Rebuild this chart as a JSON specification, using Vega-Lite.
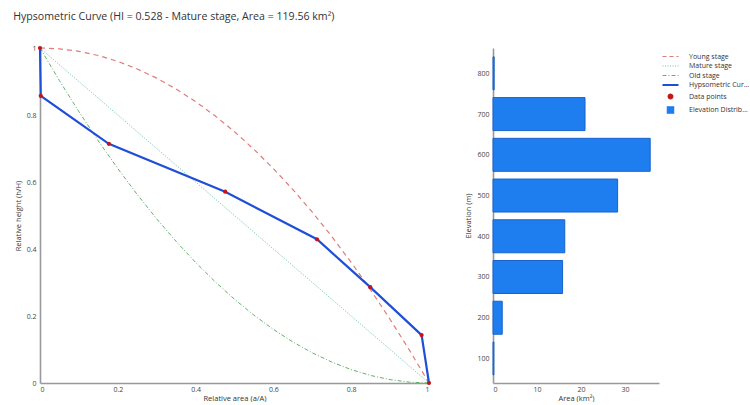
{
  "$schema": "https://vega.github.io/schema/vega-lite/v6.json",
  "background": "white",
  "padding": {"left": 13, "top": 12, "right": 0, "bottom": 0},
  "title": {"text": "Hypsometric Curve (HI = 0.528 - Mature stage, Area = 119.56 km²)", "anchor": "start", "fontSize": 10.6, "fontWeight": "normal", "color": "#333", "font": "Open Sans", "offset": 21, "dx": -1},
  "config": {
    "font": "Open Sans",
    "view": {"stroke": null},
    "axis": {"domainColor": "#999", "domainWidth": 1.6, "ticks": false, "grid": false, "labelColor": "#444", "labelFontSize": 7, "titleFontSize": 7.5, "titleFontWeight": "normal", "titleColor": "#333", "labelPadding": 4, "titlePadding": 4},
    "axisX": {"labelPadding": 2, "titlePadding": 2.5},
    "legend": {"labelFontSize": 7, "labelColor": "#333", "rowPadding": 1.5, "symbolSize": 64, "labelLimit": 61, "labelOffset": 15, "offset": 3, "padding": 5}
  },
  "datasets": {
    "curves": [
      {"series": "Young stage", "x": 0, "y": 1},
      {"series": "Young stage", "x": 0.05, "y": 0.9975},
      {"series": "Young stage", "x": 0.1, "y": 0.99},
      {"series": "Young stage", "x": 0.15, "y": 0.9775},
      {"series": "Young stage", "x": 0.2, "y": 0.96},
      {"series": "Young stage", "x": 0.25, "y": 0.9375},
      {"series": "Young stage", "x": 0.3, "y": 0.91},
      {"series": "Young stage", "x": 0.35, "y": 0.8775},
      {"series": "Young stage", "x": 0.4, "y": 0.84},
      {"series": "Young stage", "x": 0.45, "y": 0.7975},
      {"series": "Young stage", "x": 0.5, "y": 0.75},
      {"series": "Young stage", "x": 0.55, "y": 0.6975},
      {"series": "Young stage", "x": 0.6, "y": 0.64},
      {"series": "Young stage", "x": 0.65, "y": 0.5775},
      {"series": "Young stage", "x": 0.7, "y": 0.51},
      {"series": "Young stage", "x": 0.75, "y": 0.4375},
      {"series": "Young stage", "x": 0.8, "y": 0.36},
      {"series": "Young stage", "x": 0.85, "y": 0.2775},
      {"series": "Young stage", "x": 0.9, "y": 0.19},
      {"series": "Young stage", "x": 0.95, "y": 0.0975},
      {"series": "Young stage", "x": 1, "y": 0},
      {"series": "Mature stage", "x": 0, "y": 1},
      {"series": "Mature stage", "x": 1, "y": 0},
      {"series": "Old stage", "x": 0, "y": 1},
      {"series": "Old stage", "x": 0.05, "y": 0.9025},
      {"series": "Old stage", "x": 0.1, "y": 0.81},
      {"series": "Old stage", "x": 0.15, "y": 0.7225},
      {"series": "Old stage", "x": 0.2, "y": 0.64},
      {"series": "Old stage", "x": 0.25, "y": 0.5625},
      {"series": "Old stage", "x": 0.3, "y": 0.49},
      {"series": "Old stage", "x": 0.35, "y": 0.4225},
      {"series": "Old stage", "x": 0.4, "y": 0.36},
      {"series": "Old stage", "x": 0.45, "y": 0.3025},
      {"series": "Old stage", "x": 0.5, "y": 0.25},
      {"series": "Old stage", "x": 0.55, "y": 0.2025},
      {"series": "Old stage", "x": 0.6, "y": 0.16},
      {"series": "Old stage", "x": 0.65, "y": 0.1225},
      {"series": "Old stage", "x": 0.7, "y": 0.09},
      {"series": "Old stage", "x": 0.75, "y": 0.0625},
      {"series": "Old stage", "x": 0.8, "y": 0.04},
      {"series": "Old stage", "x": 0.85, "y": 0.0225},
      {"series": "Old stage", "x": 0.9, "y": 0.01},
      {"series": "Old stage", "x": 0.95, "y": 0.0025},
      {"series": "Old stage", "x": 1, "y": 0},
      {"series": "Hypsometric Curve", "x": 0, "y": 1},
      {"series": "Hypsometric Curve", "x": 0.002, "y": 0.857},
      {"series": "Hypsometric Curve", "x": 0.177, "y": 0.714},
      {"series": "Hypsometric Curve", "x": 0.476, "y": 0.571},
      {"series": "Hypsometric Curve", "x": 0.712, "y": 0.429},
      {"series": "Hypsometric Curve", "x": 0.849, "y": 0.286},
      {"series": "Hypsometric Curve", "x": 0.981, "y": 0.143},
      {"series": "Hypsometric Curve", "x": 1, "y": 0}
    ],
    "bins": [
      {"elevation": 100, "area": 0.2},
      {"elevation": 200, "area": 2.1},
      {"elevation": 300, "area": 15.8},
      {"elevation": 400, "area": 16.3},
      {"elevation": 500, "area": 28.3},
      {"elevation": 600, "area": 35.7},
      {"elevation": 700, "area": 20.9},
      {"elevation": 800, "area": 0.26}
    ]
  },
  "spacing": 30,
  "hconcat": [
    {
      "width": 389,
      "height": 335,
      "data": {"name": "curves"},
      "encoding": {
        "x": {"field": "x", "type": "quantitative", "scale": {"domain": [0, 1], "nice": false, "zero": false}, "axis": {"title": "Relative area (a/A)", "values": [0, 0.2, 0.4, 0.6, 0.8, 1], "format": "~g"}},
        "y": {"field": "y", "type": "quantitative", "scale": {"domain": [0, 1], "nice": false, "zero": false}, "axis": {"title": "Relative height (h/H)", "values": [0, 0.2, 0.4, 0.6, 0.8, 1], "format": "~g"}}
      },
      "layer": [
        {
          "transform": [{"filter": "datum.series === 'Young stage'"}],
          "mark": {"type": "line", "strokeDash": [5, 4], "strokeWidth": 1.2, "clip": false},
          "encoding": {
            "color": {
              "field": "series", "type": "nominal",
              "scale": {"domain": ["Young stage", "Mature stage", "Old stage", "Hypsometric Curve", "Data points", "Elevation Distribution"], "range": ["#e07b7b", "#6cc2ad", "#62b06c", "#1f4ed8", "#c41414", "#1e7ef0"]},
              "legend": {
                "title": null,
                "orient": "right",
                "encode": {
                  "symbols": {
                    "update": {
                      "shape": {"signal": "datum.value === 'Data points' ? 'circle' : datum.value === 'Elevation Distribution' ? 'square' : 'stroke'"},
                      "strokeDash": {"signal": "datum.value === 'Young stage' ? [4, 3] : datum.value === 'Mature stage' ? [1, 1.5] : datum.value === 'Old stage' ? [4, 2, 1, 2] : [1, 0]"},
                      "strokeWidth": {"signal": "datum.value === 'Hypsometric Curve' ? 2.2 : 1.2"},
                      "size": {"signal": "datum.value === 'Data points' ? 22 : datum.value === 'Elevation Distribution' ? 40 : 256"},
                      "fill": {"signal": "scale('color', datum.value)"},
                      "stroke": {"signal": "scale('color', datum.value)"},
                      "opacity": {"value": 1},
                      "fillOpacity": {"value": 1},
                      "strokeOpacity": {"value": 1}
                    }
                  }
                }
              }
            }
          }
        },
        {
          "transform": [{"filter": "datum.series === 'Mature stage'"}],
          "mark": {"type": "line", "strokeDash": [1, 1.5], "strokeWidth": 1},
          "encoding": {"color": {"field": "series", "type": "nominal"}}
        },
        {
          "transform": [{"filter": "datum.series === 'Old stage'"}],
          "mark": {"type": "line", "strokeDash": [4, 2, 1, 2], "strokeWidth": 1},
          "encoding": {"color": {"field": "series", "type": "nominal"}}
        },
        {
          "transform": [{"filter": "datum.series === 'Hypsometric Curve'"}],
          "mark": {"type": "line", "strokeWidth": 2.2, "clip": false},
          "encoding": {"color": {"field": "series", "type": "nominal"}}
        },
        {
          "transform": [{"filter": "datum.series === 'Hypsometric Curve'"}],
          "mark": {"type": "point", "filled": true, "size": 18, "opacity": 1, "clip": false},
          "encoding": {"color": {"datum": "Data points", "type": "nominal"}}
        }
      ]
    },
    {
      "width": 166,
      "height": 335,
      "data": {"name": "bins"},
      "mark": {"type": "bar", "orient": "horizontal", "size": 33, "stroke": "#1763cc", "strokeWidth": 1},
      "encoding": {
        "x": {"field": "area", "type": "quantitative", "scale": {"domain": [0, 37.7], "nice": false}, "axis": {"title": "Area (km²)", "values": [0, 10, 20, 30]}},
        "y": {"field": "elevation", "type": "quantitative", "scale": {"domain": [52, 850], "nice": false, "zero": false}, "axis": {"title": "Elevation (m)", "values": [100, 200, 300, 400, 500, 600, 700, 800]}},
        "color": {"datum": "Elevation Distribution", "type": "nominal"}
      }
    }
  ]
}
